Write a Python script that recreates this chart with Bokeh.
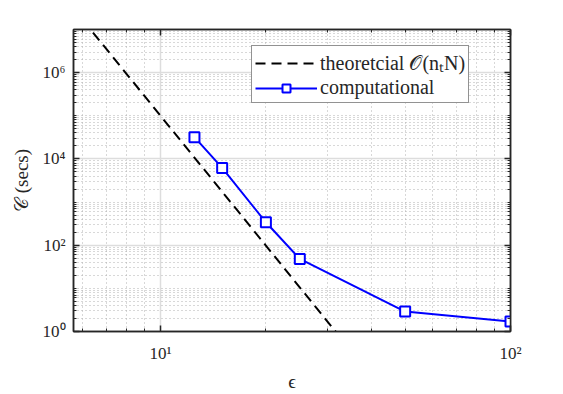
from bokeh.plotting import figure
from bokeh.models import LogAxis, FixedTicker, Legend, LegendItem, Range1d, CustomJSTickFormatter
from bokeh.embed import file_html
from bokeh.resources import INLINE

# data
comp_eps = [12.5, 15, 20, 25, 50, 100]
comp_C = [3.2e4, 6.2e3, 3.4e2, 48, 2.9, 1.7]
theo_eps = [6, 10, 20, 32]
theo_C = [1.65e7, 1.0e5, 98, 0.89]

x_major = [10, 100]
x_minor = [6, 7, 8, 9, 20, 30, 40, 50, 60, 70, 80, 90]
y_major = [1, 1e2, 1e4, 1e6]
y_minor = [m * 10 ** k for k in range(0, 7) for m in range(1, 10)]
x_labels = {10: "10¹", 100: "10²"}
y_labels = {1: "10⁰", 100: "10²", 10000: "10⁴", 1000000: "10⁶"}

FONT = "Liberation Serif"

p = figure(width=563, height=394, x_axis_type="log", y_axis_type="log",
           x_range=Range1d(5.64, 100), y_range=Range1d(1, 1e7),
           output_backend="svg", toolbar_location=None,
           min_border_left=73, min_border_right=53, min_border_top=29, min_border_bottom=62)
p.background_fill_color = "white"
p.border_fill_color = "white"
p.outline_line_color = "#262626"
p.outline_line_width = 1.5

xt = FixedTicker(ticks=x_major, minor_ticks=x_minor)
yt = FixedTicker(ticks=y_major, minor_ticks=y_minor)

xax = p.xaxis[0]
yax = p.yaxis[0]
xax.ticker = xt
xax.major_label_overrides = x_labels
yax.ticker = yt
yax.major_label_overrides = y_labels

blank = CustomJSTickFormatter(code="return ' ';")
top = LogAxis(ticker=xt, formatter=blank, major_label_standoff=0,
              major_label_text_font_size="2px")
right = LogAxis(ticker=yt, formatter=blank, major_label_standoff=0,
                major_label_text_font_size="2px")
p.add_layout(top, "above")
p.add_layout(right, "right")

for ax in [xax, yax, top, right]:
    ax.axis_line_color = "#262626"
    ax.axis_line_width = 1.5
    ax.major_tick_line_color = "#262626"
    ax.minor_tick_line_color = "#262626"
    ax.major_tick_line_width = 1.5
    ax.minor_tick_line_width = 1
    ax.major_tick_in = 6
    ax.major_tick_out = 0
    ax.minor_tick_in = 3
    ax.minor_tick_out = 0
    ax.major_label_text_font = FONT
    ax.major_label_text_color = "#262626"

xax.major_label_text_font_size = "17px"
yax.major_label_text_font_size = "17px"
xax.major_label_standoff = 12
yax.major_label_standoff = 8

xax.axis_label = "ϵ"
yax.axis_label = "𝒞 (secs)"
for ax in [xax, yax]:
    ax.axis_label_text_font = FONT
    ax.axis_label_text_font_style = "normal"
    ax.axis_label_text_font_size = "19px"
    ax.axis_label_text_color = "#262626"
xax.axis_label_standoff = 5
yax.axis_label_standoff = 8

for g in [p.xgrid[0], p.ygrid[0]]:
    g.grid_line_color = "#dddddd"
    g.grid_line_width = 1.5
    g.minor_grid_line_color = "#b0b0b0"
    g.minor_grid_line_dash = "1 3"
    g.minor_grid_line_width = 1
p.xgrid[0].ticker = xt
p.ygrid[0].ticker = yt

r_theo = p.line(theo_eps, theo_C, line_color="black", line_width=2, line_dash="10 6")
r_comp = p.line(comp_eps, comp_C, line_color="#0000ff", line_width=2)
r_mk = p.scatter(comp_eps, comp_C, marker="square", size=10, line_color="#0000ff",
                 line_width=2, fill_color="white")

legend = Legend(items=[
    LegendItem(label="theoretcial 𝒪(nₜN)", renderers=[r_theo]),
    LegendItem(label="computational", renderers=[r_comp, r_mk]),
], location=(178, 228))
legend.label_text_font = FONT
legend.label_text_font_size = "20px"
legend.label_text_color = "#262626"
legend.glyph_width = 62
legend.glyph_height = 20
legend.label_standoff = 3
legend.label_height = 20
legend.padding = 3
legend.spacing = 0
legend.margin = 0
legend.border_line_color = "#262626"
legend.border_line_width = 1.5
legend.background_fill_color = "white"
legend.background_fill_alpha = 1
p.add_layout(legend, "center")

open("out.html", "w").write(file_html(p, INLINE))
